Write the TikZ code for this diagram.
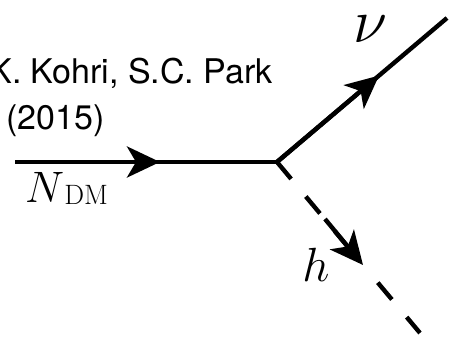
\RequirePackage{fix-cm}
\documentclass[tikz,border=0pt]{standalone}
\usepackage{fontspec}
\setsansfont{TeX Gyre Heros}
\usetikzlibrary{arrows.meta}
\begin{document}
\begin{tikzpicture}[x=1pt,y=-1pt,
  prop/.style={line width=4.4pt},
  tipped/.style={line width=4.4pt,-{Stealth[length=33pt,width=31pt,inset=9pt]}},
  scal/.style={line width=4.4pt, dash pattern=on 22pt off 23pt},
  cite/.style={font=\sffamily\fontsize{34}{40}\selectfont, inner sep=0pt},
  lbl/.style={inner sep=0pt, anchor=base},
]
\useasboundingbox (0,0) rectangle (451,339);
\clip (0,0) rectangle (451,339);
\coordinate (a) at (15,162);
\coordinate (v) at (277,162);
\coordinate (b) at (447,18);
\coordinate (c) at (420,333);
\coordinate (ta) at (160,162);
\coordinate (tb) at (379,75.6);
\coordinate (tc) at (363,265);
\coordinate (hm) at (325,219);
% fermion lines
\draw[prop] (a) -- (v);
\draw[tipped] (a) -- (ta);
\draw[prop] (v) -- (b);
\draw[tipped] (v) -- (tb);
% scalar line
\draw[scal] (v) -- (tc);
\draw[tipped] (hm) -- (tc);
\draw[scal, dash phase=22pt] (tc) -- (c);
% labels
\node[cite, anchor=base east] (ref1) at (273,84) {K. Kohri, S.C. Park};
\node[cite, anchor=base west] (ref2) at (6,130) {(2015)};
\node[lbl, anchor=base west] (ndm) at (25,203) {\fontsize{44}{50}\selectfont$N$\kern0pt\raisebox{-2pt}{\fontsize{28}{30}\selectfont DM}};
\node[lbl, font=\fontsize{62}{68}\selectfont] (nu) at (370,43) {$\nu$};
\node[lbl, font=\fontsize{48}{54}\selectfont] (h) at (316,282) {$h$};
\end{tikzpicture}
\end{document}
